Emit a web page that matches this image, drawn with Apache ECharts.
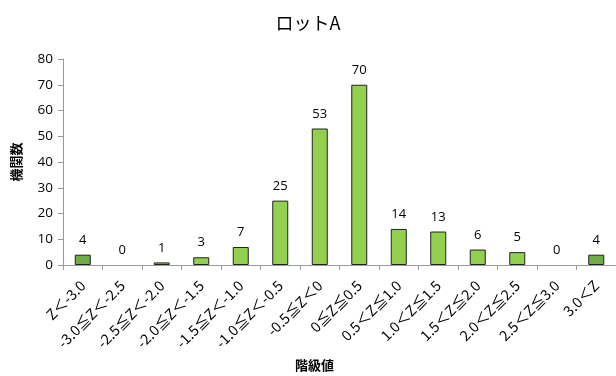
<!DOCTYPE html>
<html><head><meta charset="utf-8">
<script src="https://cdn.jsdelivr.net/npm/echarts@6/dist/echarts.min.js"></script>
<style>html,body{margin:0;padding:0;background:#fff}#c{width:616px;height:376px}</style>
</head><body><div id="c"></div>
<script>
const categories = ["Z＜-3.0","-3.0≦Z＜-2.5","-2.5≦Z＜-2.0","-2.0≦Z＜-1.5","-1.5≦Z＜-1.0","-1.0≦Z＜-0.5","-0.5≦Z＜0","0≦Z≦0.5","0.5＜Z≦1.0","1.0＜Z≦1.5","1.5＜Z≦2.0","2.0＜Z≦2.5","2.5＜Z≦3.0","3.0＜Z"];
const values = [4,0,1,3,7,25,53,70,14,13,6,5,0,4];
const yTicks = [0,10,20,30,40,50,60,70,80];
const darkIdx = [0,13];

const font = "'Open Sans', 'Noto Sans CJK JP', sans-serif";
const chart = echarts.init(document.getElementById('c'));
chart.setOption({
  animation:false,
  title:{text:'ロットA',left:'center',top:9,textStyle:{fontFamily:"'Noto Sans CJK JP', sans-serif",fontSize:18,fontWeight:'normal',color:'#000'}},
  grid:{left:63,right:0,top:59,bottom:111,containLabel:false,outerBoundsMode:'none'},
  xAxis:{type:'category',data:categories,
    name:'階級値',nameLocation:'middle',nameGap:94,
    nameTextStyle:{fontFamily:"'Noto Sans CJK JP', sans-serif",fontSize:13,fontWeight:'bold',color:'#000',padding:[0,0,0,-50]},
    axisLine:{lineStyle:{color:'#999'}},
    axisTick:{show:true,length:5,lineStyle:{color:'#999'}},
    axisLabel:{rotate:45,interval:0,fontSize:14.5,fontFamily:"'Noto Sans CJK JP', sans-serif",color:'#000',margin:18,hideOverlap:false}},
  yAxis:{type:'value',min:yTicks[0],max:yTicks[yTicks.length-1],interval:10,
    name:'機関数',nameLocation:'middle',nameGap:40,nameRotate:90,
    nameTextStyle:{fontFamily:"'Noto Sans CJK JP', sans-serif",fontSize:13,fontWeight:'bold',color:'#000'},
    axisLine:{show:true,lineStyle:{color:'#999'}},
    axisTick:{show:true,length:5,lineStyle:{color:'#999'}},
    splitLine:{show:false},
    axisLabel:{fontSize:13.5,fontFamily:font,color:'#000',margin:10}},
  series:[{type:'bar',barWidth:16,
    data:values.map((v,i)=>({value:v,itemStyle:{color:darkIdx.includes(i)?'#70AD47':'#92D050',borderWidth:v===0?0:1}})),
    itemStyle:{borderColor:'#222',borderWidth:1},
    label:{show:true,position:'top',distance:8,fontSize:13,fontFamily:font,color:'#000'}}]
});
</script></body></html>
